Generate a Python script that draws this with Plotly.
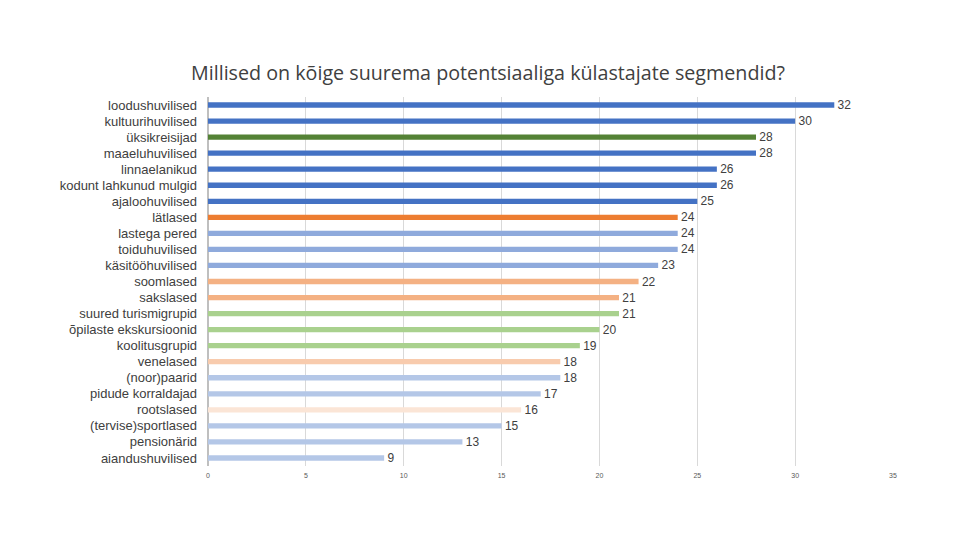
import plotly.graph_objects as go

categories = ["loodushuvilised", "kultuurihuvilised", "üksikreisijad", "maaeluhuvilised",
              "linnaelanikud", "kodunt lahkunud mulgid", "ajaloohuvilised", "lätlased",
              "lastega pered", "toiduhuvilised", "käsitööhuvilised", "soomlased", "sakslased",
              "suured turismigrupid", "õpilaste ekskursioonid", "koolitusgrupid", "venelased",
              "(noor)paarid", "pidude korraldajad", "rootslased", "(tervise)sportlased",
              "pensionärid", "aiandushuvilised"]
values = [32, 30, 28, 28, 26, 26, 25, 24, 24, 24, 23, 22, 21, 21, 20, 19, 18, 18, 17, 16, 15, 13, 9]
colors = ["#4472C4", "#4472C4", "#548235", "#4472C4", "#4472C4", "#4472C4", "#4472C4",
          "#ED7D31", "#8FAADC", "#8FAADC", "#8FAADC", "#F4B183", "#F4B183", "#A9D18E",
          "#A9D18E", "#A9D18E", "#F8CBAD", "#B4C7E7", "#B4C7E7", "#FBE5D6", "#B4C7E7",
          "#B4C7E7", "#B4C7E7"]
x_ticks = [0, 5, 10, 15, 20, 25, 30, 35]

fig = go.Figure(go.Bar(
    y=categories, x=values, orientation="h",
    marker=dict(color=colors, line=dict(width=0)),
    width=0.33,
    texttemplate=" %{x}", textposition="outside", cliponaxis=False, constraintext="none",
    textfont=dict(family="Liberation Sans, sans-serif", size=12, color="#404040"),
))

fig.update_layout(
    width=960, height=540,
    paper_bgcolor="white", plot_bgcolor="white",
    margin=dict(l=200, r=75, t=89, b=82, autoexpand=False),
    title=dict(text="Millised on kõige suurema potentsiaaliga külastajate segmendid?",
               x=0.5, xref="container", xanchor="center", y=1 - 65/540, yref="container", yanchor="middle",
               font=dict(family="Open Sans, sans-serif", size=19.7, color="#404040")),
    showlegend=False,
    bargap=0.5,
)
fig.update_xaxes(range=[0, 35], tickvals=x_ticks, showgrid=True, gridcolor="#D9D9D9", gridwidth=1,
                 zeroline=True, zerolinecolor="#BFBFBF", showline=False, automargin=False,
                 tickfont=dict(family="Liberation Sans, sans-serif", size=7, color="#595959"),
                 ticks="", ticklabelstandoff=4)
fig.update_yaxes(autorange="reversed", showgrid=False, ticks="", automargin=False,
                 tickfont=dict(family="Liberation Sans, sans-serif", size=13, color="#404040"),
                 ticklabelstandoff=10)

fig.write_html("out.html")
